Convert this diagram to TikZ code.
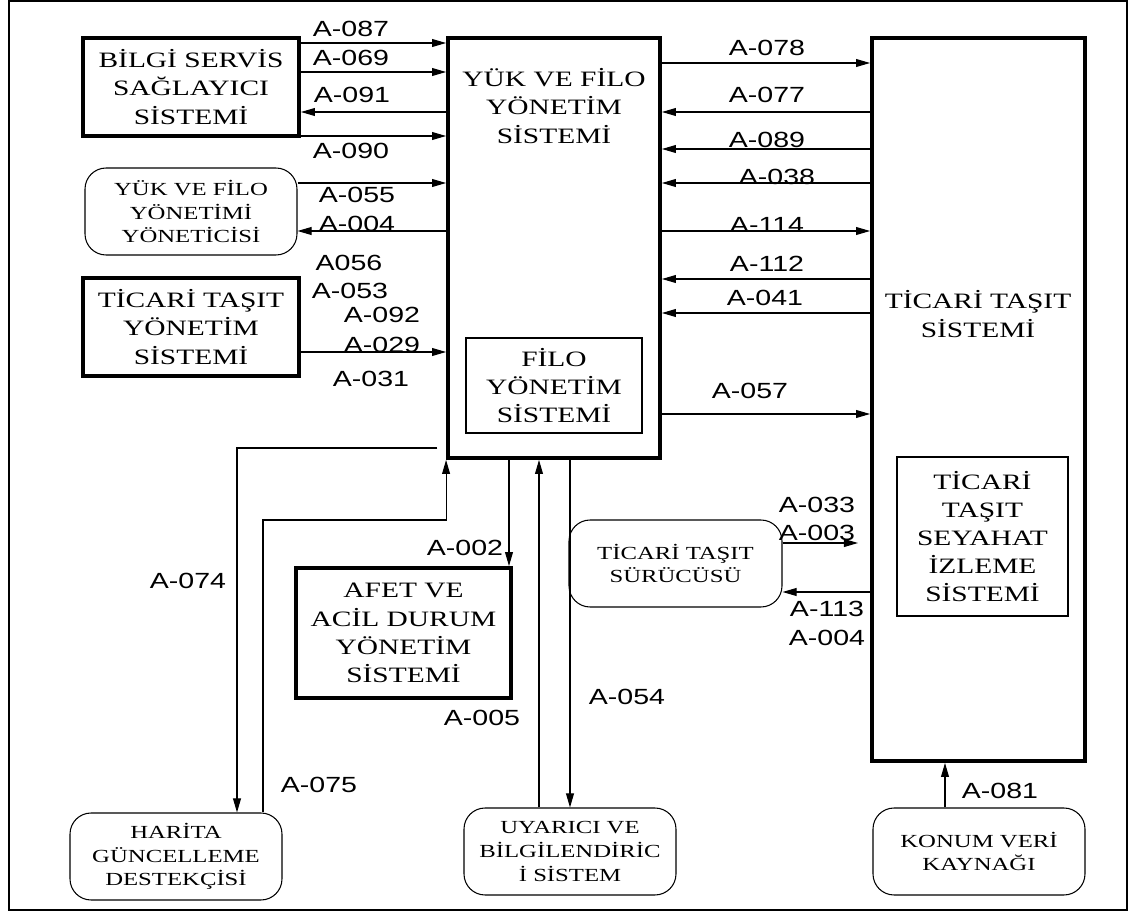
\documentclass[tikz,border=0pt]{standalone}
\usepackage{fontspec}
\newfontfamily\myboxfont[FakeStretch=1.34]{Liberation Serif}
\newfontfamily\mylblfont[FakeStretch=1.3]{Liberation Sans}
\newcommand\mybigtxt{\myboxfont\fontsize{12.5}{16}\selectfont}
\newcommand\mysmalltxt{\myboxfont\fontsize{10.5}{13.5}\selectfont}
\newcommand\mylbltxt{\mylblfont\fontsize{12.5}{14}\selectfont}
\usetikzlibrary{arrows.meta}
\begin{document}
\begin{tikzpicture}[x=0.02cm,y=-0.02cm,
  sz/.style 2 args={minimum width=#1*0.02cm, minimum height=#2*0.02cm},
  tbox/.style={draw, line width=2.2pt, inner sep=0pt, align=center, font=\mybigtxt},
  ibox/.style={draw, line width=0.8pt, inner sep=0pt, align=center, font=\mybigtxt},
  rbox/.style={draw, line width=0.6pt, rounded corners=12pt, inner sep=0pt, align=center, font=\mysmalltxt},
  txt/.style={inner sep=0pt, align=center, font=\mybigtxt},
  lbl/.style={inner sep=0pt, font=\mylbltxt},
  arr/.style={draw, line width=0.6pt, -{Triangle[length=8pt,width=4.5pt]}}]
\useasboundingbox (0,0) rectangle (1134,912);
\draw[line width=1.1pt] (9,1) rectangle (1127,910);

% nodes
\node[tbox, sz={216}{98}] (bilgi) at (191,87) {BİLGİ SERVİS\\SAĞLAYICI\\SİSTEMİ};
\node[tbox, sz={212}{420}] (yuk) at (554,248) {};
\node[txt] (yukl) at (554,106) {YÜK VE FİLO\\YÖNETİM\\SİSTEMİ};
\node[tbox, sz={213}{723}] (ticari) at (978.5,399.5) {};
\node[txt] (ticaril) at (978,314) {TİCARİ TAŞIT\\SİSTEMİ};
\node[rbox, sz={212}{87}] (yonetici) at (191,211.5) {YÜK VE FİLO\\YÖNETİMİ\\YÖNETİCİSİ};
\node[tbox, sz={216}{98}] (tty) at (191,327) {TİCARİ TAŞIT\\YÖNETİM\\SİSTEMİ};
\node[ibox, sz={176}{95}] (filo) at (554,385.5) {FİLO\\YÖNETİM\\SİSTEMİ};
\node[ibox, sz={171}{159}] (seyahat) at (982.5,536.5) {TİCARİ\\TAŞIT\\SEYAHAT\\İZLEME\\SİSTEMİ};
\node[tbox, sz={215}{130}] (afet) at (403.5,633) {AFET VE\\ACİL DURUM\\YÖNETİM\\SİSTEMİ};
\node[rbox, sz={212}{87}] (harita) at (176,856.5) {HARİTA\\GÜNCELLEME\\DESTEKÇİSİ};
\node[rbox, sz={212}{87}] (uyarici) at (570,851.5) {UYARICI VE\\BİLGİLENDİRİC\\İ SİSTEM};
\node[rbox, sz={213}{87}] (surucu) at (675.5,563.5) {TİCARİ TAŞIT\\SÜRÜCÜSÜ};
\node[rbox, sz={212}{87}] (konum) at (979,851.5) {KONUM VERİ\\KAYNAĞI};
\coordinate (s3end) at (858,543);

% left connectors
\draw[arr] (bilgi.east |- 0,43) -- (yuk.west |- 0,43);
\draw[arr] (bilgi.east |- 0,72) -- (yuk.west |- 0,72);
\draw[arr] (yuk.west |- 0,112) -- (bilgi.east |- 0,112);
\draw[arr] (bilgi.east |- 0,136) -- (yuk.west |- 0,136);
\draw[arr] (yonetici.east |- 0,183) -- (yuk.west |- 0,183);
\draw[arr] (yuk.west |- 0,231) -- (yonetici.east |- 0,231);
\draw[arr] (tty.east |- 0,352) -- (yuk.west |- 0,352);

% right connectors
\draw[arr] (yuk.east |- 0,63) -- (ticari.west |- 0,63);
\draw[arr] (ticari.west |- 0,112) -- (yuk.east |- 0,112);
\draw[arr] (ticari.west |- 0,149) -- (yuk.east |- 0,149);
\draw[arr] (ticari.west |- 0,183) -- (yuk.east |- 0,183);
\draw[arr] (yuk.east |- 0,231) -- (ticari.west |- 0,231);
\draw[arr] (ticari.west |- 0,279) -- (yuk.east |- 0,279);
\draw[arr] (ticari.west |- 0,313) -- (yuk.east |- 0,313);
\draw[arr] (yuk.east |- 0,414) -- (ticari.west |- 0,414);

% bottom connectors
\draw[arr, shorten <=5pt] (yuk.west |- 0,448) -| (237,0 |- harita.north);
\draw[arr] (263,0 |- harita.north) -- (263,520) -| (yuk.south west);
\draw[arr] (yuk.south -| 509,0) -- (afet.north -| 509,0);
\draw[arr] (uyarici.north -| 539,0) -- (yuk.south -| 539,0);
\draw[arr] (yuk.south -| 570,0) -- (uyarici.north -| 570,0);
\draw[arr] (surucu.east |- 0,543) -- (s3end);
\draw[arr] (ticari.west |- 0,592) -- (surucu.east |- 0,592);
\draw[arr] (konum.north -| 945,0) -- (ticari.south -| 945,0);

% labels
\node[lbl] (l087) at (351,29) {A-087};
\node[lbl] (l069) at (351,58) {A-069};
\node[lbl] (l091) at (352,95) {A-091};
\node[lbl] (l090) at (351,151) {A-090};
\node[lbl] (l055) at (357,195) {A-055};
\node[lbl] (l004a) at (357,224) {A-004};
\node[lbl] (l056) at (349,263) {A056};
\node[lbl] (l053) at (350,291) {A-053};
\node[lbl] (l092) at (382,315) {A-092};
\node[lbl] (l029) at (382,345) {A-029};
\node[lbl] (l031) at (371,379) {A-031};
\node[lbl] (l078) at (767,48) {A-078};
\node[lbl] (l077) at (767,95) {A-077};
\node[lbl] (l089) at (767,140) {A-089};
\node[lbl] (l038) at (777,177) {A-038};
\node[lbl] (l114) at (767,225) {A-114};
\node[lbl] (l112) at (767,264) {A-112};
\node[lbl] (l041) at (765,298) {A-041};
\node[lbl] (l057) at (750,391) {A-057};
\node[lbl] (l074) at (188,581) {A-074};
\node[lbl] (l075) at (319,785) {A-075};
\node[lbl] (l002) at (465,548) {A-002};
\node[lbl] (l005) at (482,718) {A-005};
\node[lbl] (l054) at (627,697) {A-054};
\node[lbl] (l033) at (817,505) {A-033};
\node[lbl] (l003) at (817,533) {A-003};
\node[lbl] (l113) at (827,609) {A-113};
\node[lbl] (l004b) at (827,638) {A-004};
\node[lbl] (l081) at (1000,791) {A-081};
\end{tikzpicture}
\end{document}
